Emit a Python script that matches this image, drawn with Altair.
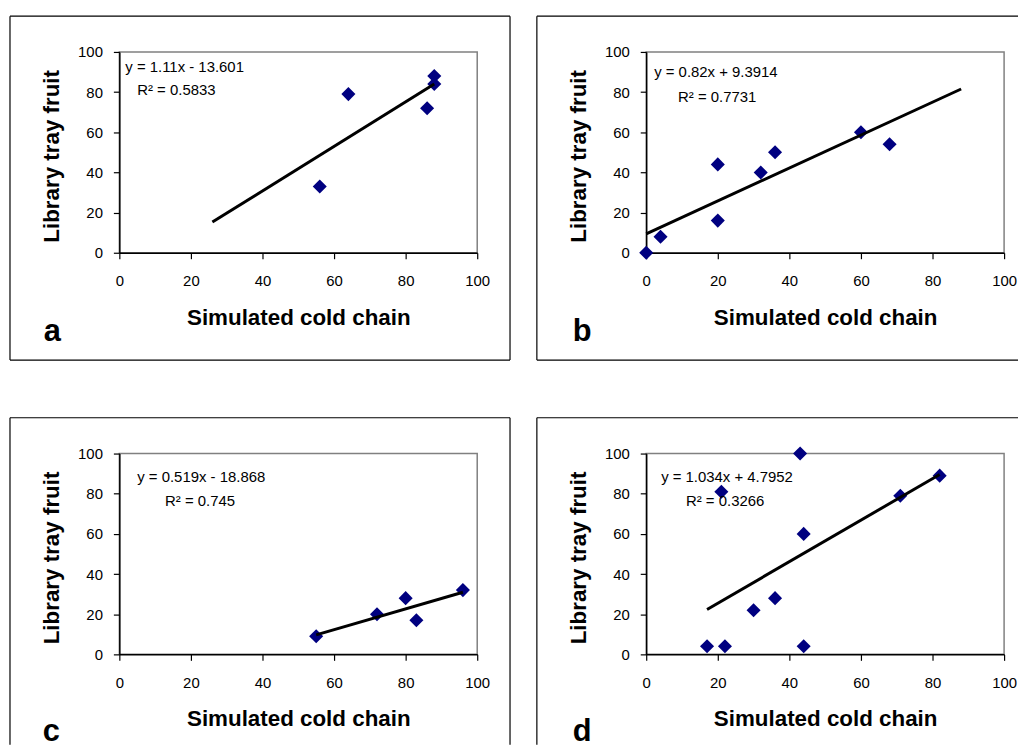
import altair as alt
import pandas as pd

# ---- data ----
labels = ["a", "b", "c", "d"]
a_x = [56, 64, 86, 88, 88]
a_y = [33, 79, 72, 84, 88]
b_x = [0, 4, 20, 20, 32, 36, 60, 68]
b_y = [0, 8, 44, 16, 40, 50, 60, 54]
c_x = [55, 72, 80, 83, 96]
c_y = [9, 20, 28, 17, 32]
d_x = [17, 22, 21, 30, 36, 43, 44, 44, 71, 82]
d_y = [4, 4, 81, 22, 28, 100, 60, 4, 79, 89]
slopes = [1.11, 0.82, 0.519, 1.034]
intercepts = [-13.601, 9.3914, -18.868, 4.7952]
trend_start = [26, 0, 55, 17]
trend_end = [88, 88, 96, 82]
equations = ["y = 1.11x - 13.601", "y = 0.82x + 9.3914",
             "y = 0.519x - 18.868", "y = 1.034x + 4.7952"]
r2_texts = ["R\u00b2 = 0.5833", "R\u00b2 = 0.7731", "R\u00b2 = 0.745", "R\u00b2 = 0.3266"]
x_title = "Simulated cold chain"
y_title = "Library tray fruit"
ticks = [0, 20, 40, 60, 80, 100]

xs_all = [a_x, b_x, c_x, d_x]
ys_all = [a_y, b_y, c_y, d_y]

# layout / style (pixels relative to each plot area)
W, H = 360, 202
FONT = "Liberation Sans"
eq_pos = [((6, 15), (18, 38)), ((8, 20), (32, 45)),
          ((18, 24), (46, 48)), ((15, 24), (40, 48))]
label_pos = [(-76, 291), (-74, 291), (-77, 289), (-74, 289)]
# frame sides per panel: list of (x, x2, y, y2)
frames = [
    [(-110, 393, -36, -36), (-110, 393, 310, 310), (-110, -110, -36, 310), (393, 393, -36, 310)],
    [(-110, 374, -36, -36), (-110, 374, 310, 310), (-110, -110, -36, 310)],
    [(-110, 393, -36, -36), (-110, -110, -36, 293), (393, 393, -36, 293)],
    [(-110, 374, -36, -36), (-110, -110, -36, 293)],
]

one = pd.DataFrame({"k": [0]})


def panel(i):
    pts = pd.DataFrame({"x": xs_all[i], "y": ys_all[i]})
    tl = pd.DataFrame({"x": [trend_start[i], trend_end[i]]})
    tl["y"] = slopes[i] * tl["x"] + intercepts[i]

    xsc = alt.Scale(domain=[0, 100], nice=False, zero=False)
    ysc = alt.Scale(domain=[0, 100], nice=False, zero=False)
    xenc = alt.X("x:Q", scale=xsc, title=x_title,
                 axis=alt.Axis(values=ticks, grid=False, labelFlush=False))
    yenc = alt.Y("y:Q", scale=ysc, title=y_title,
                 axis=alt.Axis(values=ticks, grid=False))

    layers = []
    for (x1, x2, y1, y2) in frames[i]:
        if y1 == y2:
            layers.append(alt.Chart(one).mark_rule(color="black", strokeWidth=1.2).encode(
                x=alt.value(x1), x2=alt.value(x2), y=alt.value(y1)))
        else:
            layers.append(alt.Chart(one).mark_rule(color="black", strokeWidth=1.2).encode(
                x=alt.value(x1), y=alt.value(y1), y2=alt.value(y2)))

    points = alt.Chart(pts).mark_point(shape="diamond", filled=True, color="#000080",
                                        size=200, opacity=1).encode(x=xenc, y=yenc)
    line = alt.Chart(tl).mark_line(color="black", strokeWidth=3).encode(x=xenc, y=yenc)

    (e1x, e1y), (e2x, e2y) = eq_pos[i]
    t1 = alt.Chart(one).mark_text(text=equations[i], font=FONT, fontSize=15, align="left",
                                  baseline="middle", color="black").encode(
        x=alt.value(e1x), y=alt.value(e1y))
    t2 = alt.Chart(one).mark_text(text=r2_texts[i], font=FONT, fontSize=15, align="left",
                                  baseline="middle", color="black").encode(
        x=alt.value(e2x), y=alt.value(e2y))
    lx, ly = label_pos[i]
    lab = alt.Chart(one).mark_text(text=labels[i], font=FONT, fontSize=31, fontWeight="bold",
                                   align="left", baseline="alphabetic", color="black").encode(
        x=alt.value(lx), y=alt.value(ly))

    return alt.layer(*layers, points, line, t1, t2, lab).properties(width=W, height=H)


row1 = alt.hconcat(panel(0), panel(1), spacing=23)
row2 = alt.hconcat(panel(2), panel(3), spacing=23)

chart = alt.vconcat(row1, row2, spacing=54).properties(
    padding={"left": 0, "top": 4, "right": 0, "bottom": 0},
    background="white",
).configure_view(
    stroke="#808080", strokeWidth=1.5
).configure_axis(
    domainColor="black", domainWidth=1.5,
    tickColor="black", tickWidth=1.2, tickSize=6,
    labelFont=FONT, labelFontSize=15, labelColor="black",
    titleFont=FONT, titleFontSize=22.5, titleFontWeight="bold", titleColor="black",
).configure_axisX(
    labelPadding=15, titleY=72, titleX=180, titleBaseline="alphabetic", titleAlign="center",
).configure_axisY(
    labelPadding=11, titleX=-61, titleY=104.5, titleAngle=270,
    titleBaseline="alphabetic", titleAlign="center",
)

chart.save("out.html", embed_options={"renderer": "svg", "actions": False})
